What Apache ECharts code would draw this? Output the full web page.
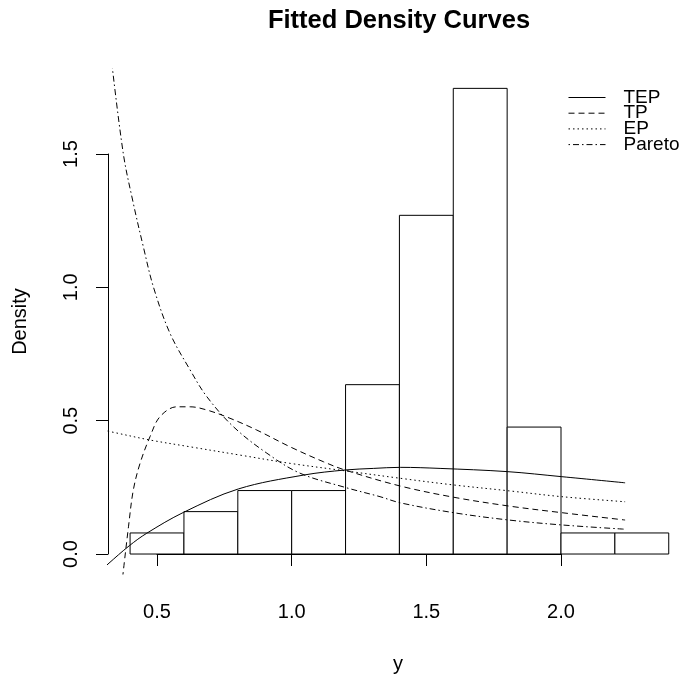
<!DOCTYPE html>
<html>
<head>
<meta charset="utf-8">
<script src="https://cdn.jsdelivr.net/npm/echarts@6/dist/echarts.min.js"></script>
<style>
  html, body { margin: 0; padding: 0; background: #fff; }
  #main { width: 680px; height: 679px; }
</style>
</head>
<body>
<div id="main"></div>
<script>
// histogram bins (density scale)
var binLeft = [0.4, 0.6, 0.8, 1.0, 1.2, 1.4, 1.6, 1.8, 2.0, 2.2];
var binRight = [0.6, 0.8, 1.0, 1.2, 1.4, 1.6, 1.8, 2.0, 2.2, 2.4];
var binDensity = [0.079, 0.159, 0.238, 0.238, 0.635, 1.270, 1.746, 0.476, 0.079, 0.079];

// fitted curves
var tepX = [0.30, 0.318, 0.397, 0.462, 0.598, 0.802, 1.044, 1.198, 1.303, 1.403, 1.551, 1.80, 2.003, 2.238];
var tepY = [-0.055, -0.0375, 0.031, 0.078, 0.156, 0.244, 0.296, 0.315, 0.321, 0.325, 0.321, 0.309, 0.290, 0.267];

var tpX = [0.372, 0.394, 0.412, 0.437, 0.474, 0.511, 0.573, 0.623, 0.685, 0.771, 0.870, 0.994, 1.118, 1.198, 1.403, 1.601, 1.806, 2.003, 2.238];
var tpY = [-0.09, 0.102, 0.24, 0.34, 0.44, 0.515, 0.552, 0.552, 0.54, 0.509, 0.465, 0.402, 0.346, 0.315, 0.255, 0.213, 0.18, 0.155, 0.1275];

var epX = [0.30, 0.326, 0.474, 0.623, 0.808, 0.994, 1.198, 1.403, 1.601, 1.806, 2.003, 2.238];
var epY = [0.465, 0.459, 0.4275, 0.402, 0.371, 0.34, 0.312, 0.284, 0.259, 0.237, 0.215, 0.196];

var parX = [0.330, 0.375, 0.412, 0.449, 0.487, 0.548, 0.623, 0.685, 0.784, 0.908, 1.031, 1.198, 1.328, 1.403, 1.601, 1.806, 2.003, 2.238];
var parY = [1.86, 1.50, 1.315, 1.153, 1.0, 0.828, 0.69, 0.59, 0.477, 0.378, 0.303, 0.25, 0.215, 0.192, 0.155, 0.1275, 0.109, 0.093];

var xTicks = [0.5, 1.0, 1.5, 2.0];
var yTicks = [0.0, 0.5, 1.0, 1.5];

var FONT = 'Liberation Sans, Arial, sans-serif';

function zip(xs, ys) {
  return xs.map(function (x, i) { return [x, ys[i]]; });
}

function curve(name, xs, ys, dash) {
  return {
    name: name,
    type: 'line',
    xAxisIndex: 0,
    yAxisIndex: 0,
    data: zip(xs, ys),
    symbol: 'none',
    smooth: 0.35,
    clip: true,
    z: 5,
    lineStyle: { color: '#000', width: 1, type: dash },
    itemStyle: { color: '#000' }
  };
}

var chart = echarts.init(document.getElementById('main'), null, { renderer: 'canvas' });

var option = {
  animation: false,
  backgroundColor: '#fff',
  textStyle: { fontFamily: FONT },
  title: {
    text: 'Fitted Density Curves',
    left: 394,
    top: 3,
    textAlign: 'center',
    textStyle: { fontFamily: FONT, fontSize: 25.5, fontWeight: 'bold', color: '#000' }
  },
  legend: {
    orient: 'vertical',
    left: 563,
    top: 83,
    itemWidth: 37,
    itemHeight: 10,
    itemGap: -3.3,
    data: ['TEP', 'TP', 'EP', 'Pareto'],
    itemStyle: { color: 'rgba(0,0,0,0)', borderWidth: 0 },
    lineStyle: { width: 1 },
    textStyle: { fontFamily: FONT, fontSize: 19, color: '#000', padding: [0, 0, 0, 13] }
  },
  grid: [
    // plot region (data is clipped here)
    { left: 108, right: 0, top: 69, bottom: 105 },
    // tick span, used for the R-style detached axes
    { left: 157, right: 119, top: 154, bottom: 125 }
  ],
  xAxis: [
    {
      gridIndex: 0, type: 'value', min: 0.318, max: 2.4418,
      axisLine: { show: false }, axisTick: { show: false }, axisLabel: { show: false }, splitLine: { show: false },
      name: 'y', nameLocation: 'middle', nameGap: 80,
      nameTextStyle: { fontFamily: FONT, fontSize: 20, color: '#000', padding: [0, 0, 0, 8] }
    },
    {
      gridIndex: 1, type: 'value', min: xTicks[0], max: xTicks[xTicks.length - 1], interval: 0.5,
      position: 'bottom', offset: 20,
      axisLine: { show: true, lineStyle: { color: '#000', width: 1 } },
      axisTick: { show: true, length: 12, lineStyle: { color: '#000' } },
      axisLabel: { fontFamily: FONT, fontSize: 20, color: '#000', margin: 28, formatter: function (v) { return v.toFixed(1); } },
      splitLine: { show: false }
    }
  ],
  yAxis: [
    {
      gridIndex: 0, type: 'value', min: -0.0749, max: 1.8186,
      axisLine: { show: false }, axisTick: { show: false }, axisLabel: { show: false }, splitLine: { show: false },
      name: 'Density', nameLocation: 'middle', nameGap: 78,
      nameTextStyle: { fontFamily: FONT, fontSize: 20, color: '#000' }
    },
    {
      gridIndex: 1, type: 'value', min: yTicks[0], max: yTicks[yTicks.length - 1], interval: 0.5,
      position: 'left', offset: 49,
      axisLine: { show: true, lineStyle: { color: '#000', width: 1 } },
      axisTick: { show: true, length: 12, lineStyle: { color: '#000' } },
      axisLabel: { fontFamily: FONT, fontSize: 20, color: '#000', margin: 27, rotate: 90, formatter: function (v) { return v.toFixed(1); } },
      splitLine: { show: false }
    }
  ],
  series: [
    {
      name: 'hist',
      type: 'custom',
      xAxisIndex: 0,
      yAxisIndex: 0,
      z: 2,
      data: binLeft.map(function (l, i) { return [l, binRight[i], binDensity[i]]; }),
      encode: { x: [0, 1], y: 2 },
      renderItem: function (params, api) {
        var p0 = api.coord([api.value(0), 0]);
        var p1 = api.coord([api.value(1), api.value(2)]);
        return {
          type: 'rect',
          shape: { x: p0[0], y: p1[1], width: p1[0] - p0[0], height: p0[1] - p1[1] },
          style: { fill: '#fff', stroke: '#000', lineWidth: 1 }
        };
      }
    },
    curve('TEP', tepX, tepY, 'solid'),
    curve('TP', tpX, tpY, [6, 4]),
    curve('EP', epX, epY, [1.5, 3]),
    curve('Pareto', parX, parY, [1.5, 3, 6, 3])
  ]
};

chart.setOption(option);
</script>
</body>
</html>
